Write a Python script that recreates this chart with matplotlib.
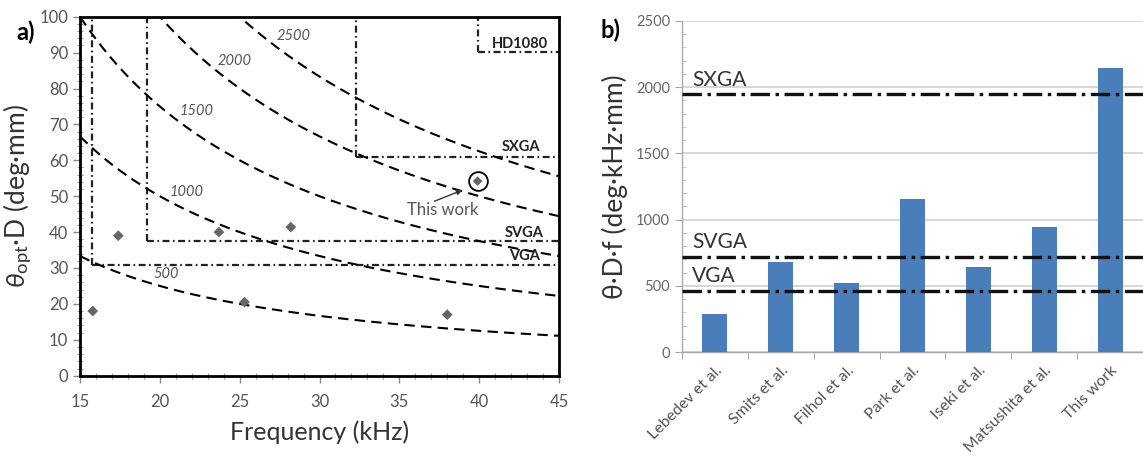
import numpy as np
import matplotlib
matplotlib.use("Agg")
import matplotlib.pyplot as plt

plt.rcParams['font.family'] = ['Lato', 'DejaVu Sans']
plt.rcParams['mathtext.fontset'] = 'custom'
plt.rcParams['mathtext.rm'] = 'Lato'
plt.rcParams['mathtext.it'] = 'Lato:italic'
plt.rcParams['lines.scale_dashes'] = False

# ---------------- Panel a data ----------------
curve_products = [500, 1000, 1500, 2000, 2500]          # theta*D*f (deg kHz mm)
curve_label_x = [19.6, 20.6, 21.25, 23.6, 27.3]
curve_label_y = [28.2, 51.2, 73.7, 87.7, 94.6]

res_names = ["VGA", "SVGA", "SXGA", "HD1080"]
res_freq = [15.73, 19.2, 32.3, 39.9]                     # kHz
res_thetaD = [30.8, 37.5, 60.9, 90.2]                    # deg*mm
res_label_x = [41.9, 41.6, 41.4, 40.8]
res_label_y = [33.3, 39.7, 63.6, 92.4]

pts_freq = [15.8, 17.4, 23.7, 25.3, 28.2, 38.0]
pts_thetaD = [18.0, 39.0, 40.0, 20.5, 41.4, 17.0]
this_freq = 39.9
this_thetaD = 54.2

# ---------------- Panel b data ----------------
refs = ["Lebedev et al.", "Smits et al.", "Filhol et al.", "Park et al.",
        "Iseki et al.", "Matsushita et al.", "This work"]
prod_vals = [290, 679, 518, 1152, 644, 946, 2144]
b_lines = ["SXGA", "SVGA", "VGA"]
b_line_vals = [1946, 717, 460]

fig = plt.figure(figsize=(11.43, 4.74), dpi=100)

# ================= Panel a =================
ax1 = fig.add_axes([80/1143, 1-375.7/474, (559-80)/1143, (375.7-16.7)/474])
f = np.linspace(15, 45, 400)
for C in curve_products:
    ax1.plot(f, C / f, color='black', lw=1.5, ls=(0, (7.5, 4.5)), zorder=3)
for C, lx, ly in zip(curve_products, curve_label_x, curve_label_y):
    ax1.text(lx, ly, str(C), fontsize=10.5, style='italic', color='#555555',
             ha='left', va='center', zorder=4)

dd = (0, (5, 2.5, 1.2, 2.5))
for fr, td in zip(res_freq, res_thetaD):
    ax1.plot([fr, fr], [td, 100], color='#222222', lw=1.6, ls=dd, zorder=2)
    ax1.plot([fr, 45], [td, td], color='#222222', lw=1.6, ls=dd, zorder=2)
for name, lx, ly in zip(res_names, res_label_x, res_label_y):
    ax1.text(lx, ly, name, fontsize=10.5, fontweight='bold', color='#222222',
             ha='left', va='center', zorder=4)

ax1.scatter(pts_freq, pts_thetaD, marker='D', s=30, color='#666666', zorder=5,
            edgecolors='none')
ax1.scatter([this_freq], [this_thetaD], marker='D', s=24, color='#666666', zorder=5,
            edgecolors='none')
ax1.plot([this_freq], [this_thetaD], marker='o', ms=13.5, mfc='none', mec='black',
         mew=1.3, zorder=5)
ax1.text(37.7, 46.2, "This work", fontsize=12, color='#555555', ha='center',
         va='center', zorder=5)
ax1.annotate("", xy=(38.95, 51.7), xytext=(37.2, 48.6),
             arrowprops=dict(arrowstyle='-|>', color='#333333', lw=1.0,
                             shrinkA=0, shrinkB=0, mutation_scale=8))

ax1.set_xlim(15, 45)
ax1.set_ylim(0, 100)
ax1.set_xticks(np.arange(15, 46, 5))
ax1.set_yticks(np.arange(0, 101, 10))
ax1.set_xticks(np.arange(15, 46, 1), minor=True)
ax1.set_yticks(np.arange(0, 101, 2), minor=True)
ax1.tick_params(axis='both', which='major', labelsize=12, labelcolor='#555555',
                direction='out', length=5, width=1, color='#888888')
ax1.tick_params(axis='both', which='minor', direction='inout', length=4, width=0.8,
                color='#999999')
ax1.tick_params(axis='x', which='major', pad=8)
for s in ax1.spines.values():
    s.set_linewidth(2)
    s.set_color('black')
ax1.set_xlabel("Frequency (kHz)", fontsize=18, color='#333333', labelpad=8)
ax1.set_ylabel(r"$\theta_{\mathrm{opt}}$·D (deg·mm)", fontsize=19, color='#333333',
               labelpad=4)
fig.text(16/1143, 1-32/474, "a)", fontsize=17, fontweight='bold', ha='left',
         va='center')

# ================= Panel b =================
ax2 = fig.add_axes([682/1143, 1-352/474, (1143-682)/1143, (352-21)/474])
xpos = np.arange(len(refs))
ax2.bar(xpos, prod_vals, width=0.38, color='#4a7ebb', zorder=3)
bdd = (0, (14, 4, 2.5, 4))
for name, v in zip(b_lines, b_line_vals):
    ax2.axhline(v, color='#111111', lw=2.4, ls=bdd, zorder=4)
    ax2.text(-0.35, v + 35, name, fontsize=15, color='#333333', ha='left',
             va='bottom', zorder=5)

ax2.set_xlim(-0.5, len(refs) - 0.5)
ax2.set_ylim(0, 2500)
ax2.set_yticks(np.arange(0, 2501, 500))
ax2.set_yticks(np.arange(0, 2501, 100), minor=True)
ax2.set_xticks(xpos)
ax2.set_xticklabels(refs, rotation=45, ha='right', rotation_mode='anchor',
                    fontsize=11.5, color='#555555')
ax2.set_xticks(np.arange(-0.5, len(refs), 1), minor=True)
ax2.tick_params(axis='x', which='major', length=0, pad=8)
ax2.tick_params(axis='x', which='minor', length=5, color='#999999', direction='out')
ax2.tick_params(axis='y', which='major', labelsize=10.5, labelcolor='#666666',
                length=5, color='#aaaaaa', direction='out')
ax2.tick_params(axis='y', which='minor', length=3, color='#bbbbbb', direction='in')
ax2.grid(axis='y', which='major', color='#d0d0d0', lw=1.2, zorder=0)
for k in ['top', 'right']:
    ax2.spines[k].set_visible(False)
for k in ['left', 'bottom']:
    ax2.spines[k].set_color('#aaaaaa')
    ax2.spines[k].set_linewidth(1)
ax2.set_ylabel("θ·D·f (deg·kHz·mm)", fontsize=19, color='#333333', labelpad=6)
fig.text(600/1143, 1-30/474, "b)", fontsize=17, fontweight='bold', ha='left',
         va='center')

fig.savefig("out.png", dpi=100)
